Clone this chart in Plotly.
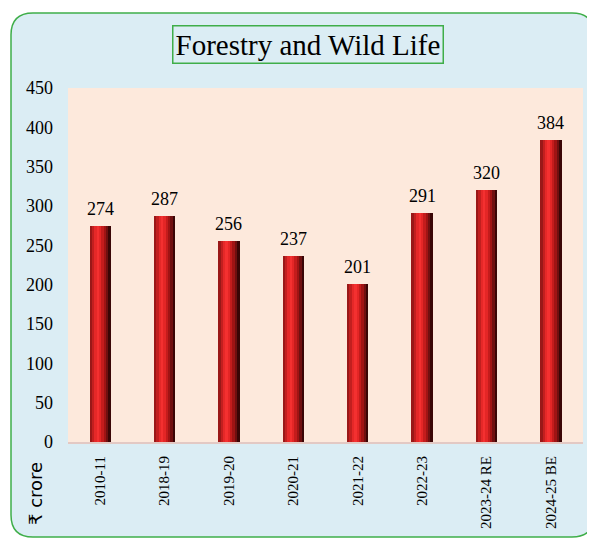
import plotly.graph_objects as go

years = ["2010-11", "2018-19", "2019-20", "2020-21", "2021-22", "2022-23", "2023-24 RE", "2024-25 BE"]
values = [274, 287, 256, 237, 201, 291, 320, 384]

# page adds an 8px body margin, so the figure is drawn 8px smaller
W, H = 587, 531
L, R, T, B = 60, 12, 80, 97  # plot area 60..575 x 80..434
pw, ph = W - L - R, H - T - B


def px(x):
    return (x - L) / pw


def py(y):
    return (H - B - y) / ph


# strips that fake the cylinder shading of each bar
shades = ["#9a1818", "#c21f1f", "#e52828", "#f43030", "#e42626",
          "#c41c1c", "#a01414", "#701010", "#3a0606"]
bar_w = 0.33
sw = bar_w / len(shades)

fig = go.Figure()
for i, c in enumerate(shades):
    fig.add_trace(go.Bar(
        x=years, y=values,
        width=sw * 1.05, offset=-bar_w / 2 + i * sw,
        marker=dict(color=c, line=dict(width=0)),
        hoverinfo="skip", showlegend=False,
    ))

for yr, v in zip(years, values):
    fig.add_annotation(x=yr, y=v, text=str(v), showarrow=False,
                       yanchor="bottom", yshift=5,
                       font=dict(family="Liberation Serif", size=18, color="black"))

# rounded outer frame
x0, x1, y0, y1, r = 3, 586, 5, 529, 22
path = (f"M {px(x0 + r)},{py(y0)} L {px(x1 - r)},{py(y0)} "
        f"Q {px(x1)},{py(y0)} {px(x1)},{py(y0 + r)} "
        f"L {px(x1)},{py(y1 - r)} Q {px(x1)},{py(y1)} {px(x1 - r)},{py(y1)} "
        f"L {px(x0 + r)},{py(y1)} Q {px(x0)},{py(y1)} {px(x0)},{py(y1 - r)} "
        f"L {px(x0)},{py(y0 + r)} Q {px(x0)},{py(y0)} {px(x0 + r)},{py(y0)} Z")
fig.add_shape(type="path", path=path, xref="paper", yref="paper",
              fillcolor="#dbedf4", line=dict(color="#3fae49", width=1.5), layer="below")
# plot area background
fig.add_shape(type="rect", xref="paper", yref="paper", x0=0, x1=1, y0=0, y1=1,
              fillcolor="#fde9dc", line=dict(width=0), layer="below")

fig.add_annotation(text="Forestry and Wild Life", xref="paper", yref="paper",
                   x=px(300), y=py(37), xanchor="center", yanchor="middle", showarrow=False,
                   font=dict(family="Liberation Serif", size=29, color="black"),
                   bordercolor="#3fae49", borderwidth=1.5, borderpad=2, bgcolor="#dbedf4")

fig.add_annotation(text="₹ crore", xref="paper", yref="paper",
                   x=px(27), y=py(486), xanchor="center", yanchor="middle",
                   showarrow=False, textangle=-90,
                   font=dict(family="DejaVu Sans", size=18, color="black"))

fig.update_layout(
    width=W, height=H,
    margin=dict(l=L, r=R, t=T, b=B),
    barmode="overlay", bargap=0,
    paper_bgcolor="white", plot_bgcolor="rgba(0,0,0,0)",
    font=dict(family="Liberation Serif", size=16, color="black"),
    xaxis=dict(type="category", tickangle=-90, showgrid=False, showline=True,
               linecolor="#e3c9c4", linewidth=2, ticks="", tickfont=dict(size=15),
               ticklabelstandoff=6, automargin=False),
    yaxis=dict(range=[0, 450], dtick=50, showgrid=False, zeroline=False, ticks="",
               tickfont=dict(size=18), ticklabelstandoff=14, automargin=False),
)

fig.write_html("out.html")
